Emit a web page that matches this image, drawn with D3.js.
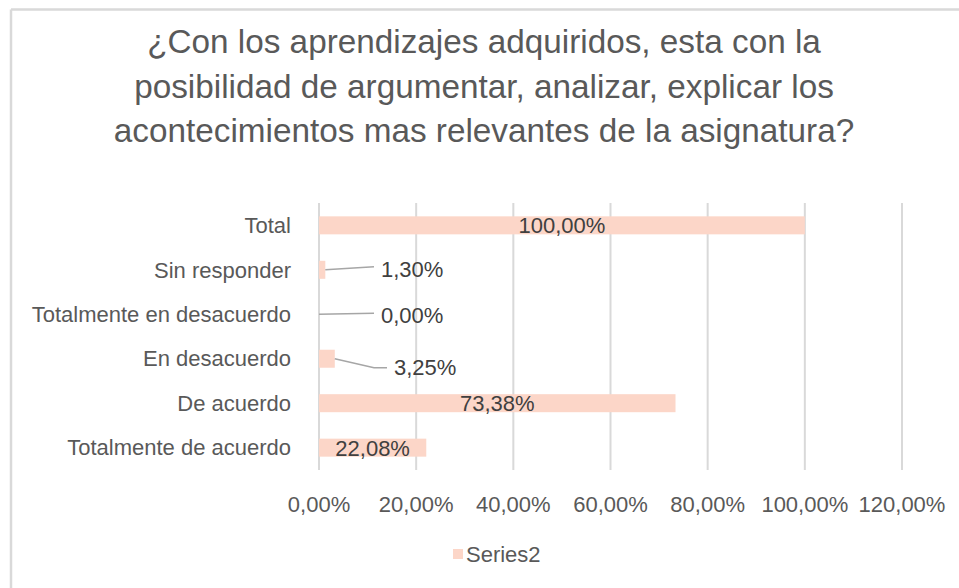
<!DOCTYPE html>
<html lang="es">
<head>
    <meta charset="UTF-8">
    <title>¿Con los aprendizajes adquiridos...?</title>
    <script src="https://d3js.org/d3.v7.min.js"></script>
    <style>
        body { margin: 0; background: #fff; }
        svg { display: block; font-family: "Liberation Sans", Arial, sans-serif; }
        .grid line { stroke: #d9d9d9; stroke-width: 2; }
        .cat, .tick-lbl, .legend-lbl { fill: #595959; font-size: 22px; }
        .val { fill: #404040; font-size: 22px; }
        .title { fill: #595959; font-size: 33.3px; }
    </style>
</head>
<body>
<svg id="chart" width="959" height="588"></svg>
<script>
    // chart data
    const titleLines = [
        "¿Con los aprendizajes adquiridos, esta con la",
        "posibilidad de argumentar, analizar, explicar los",
        "acontecimientos mas relevantes de la asignatura?"
    ];
    const categories = ["Total", "Sin responder", "Totalmente en desacuerdo",
                        "En desacuerdo", "De acuerdo", "Totalmente de acuerdo"];
    const values = [100, 1.30, 0, 3.25, 73.38, 22.08];
    const tickValues = [0, 20, 40, 60, 80, 100, 120];
    const seriesName = "Series2";

    const barColor = "#fcd6c8";
    const leaderColor = "#a6a6a6";

    const svg = d3.select("#chart");
    const margin = { left: 319, right: 57, top: 203, bottom: 118 };
    const width = 959 - margin.left - margin.right;
    const height = 588 - margin.top - margin.bottom;

    // frame (only top and left edge are visible in the crop)
    svg.append("line").attr("x1", 11).attr("x2", 959).attr("y1", 9.5).attr("y2", 9.5)
        .attr("stroke", "#d9d9d9").attr("stroke-width", 2.5);
    svg.append("line").attr("x1", 11).attr("x2", 11).attr("y1", 9.5).attr("y2", 588)
        .attr("stroke", "#d9d9d9").attr("stroke-width", 2.5);

    // title
    svg.append("text").attr("class", "title")
        .attr("text-anchor", "middle")
        .selectAll("tspan").data(titleLines).join("tspan")
        .attr("x", 484)
        .attr("y", (d, i) => 53 + i * 44.5)
        .text(d => d);

    const esLocale = d3.formatLocale({ decimal: ",", thousands: ".", grouping: [3], currency: ["", "€"] });
    const fmt = v => esLocale.format(".2f")(v) + "%";

    const x = d3.scaleLinear().domain([0, 120]).range([0, width]);
    const y = d3.scaleBand().domain(categories).range([0, height])
        .paddingInner(0.595).paddingOuter(0.3);

    const g = svg.append("g").attr("transform", `translate(${margin.left},${margin.top})`);

    // gridlines
    g.append("g").attr("class", "grid")
        .selectAll("line").data(tickValues).join("line")
        .attr("x1", d => x(d)).attr("x2", d => x(d))
        .attr("y1", 0).attr("y2", height);

    // x tick labels
    g.append("g")
        .selectAll("text").data(tickValues).join("text")
        .attr("class", "tick-lbl")
        .attr("x", d => x(d))
        .attr("y", height + 42)
        .attr("text-anchor", "middle")
        .text(d => fmt(d));

    // category labels
    g.append("g")
        .selectAll("text").data(categories).join("text")
        .attr("class", "cat")
        .attr("x", -28)
        .attr("y", d => y(d) + y.bandwidth() / 2)
        .attr("dy", "0.35em")
        .attr("text-anchor", "end")
        .text(d => d);

    const rows = categories.map((c, i) => ({ cat: c, val: values[i] }));

    // bars
    g.append("g")
        .selectAll("rect").data(rows).join("rect")
        .attr("x", x(0))
        .attr("y", d => y(d.cat))
        .attr("width", d => x(d.val) - x(0))
        .attr("height", y.bandwidth())
        .attr("fill", barColor);

    // data labels: inside (centered) for large bars, with leader lines for small ones
    const smallLabel = {
        "Sin responder": { lx: 55, ly: -3, tx: 62, ty: 7 },
        "Totalmente en desacuerdo": { lx: 55, ly: -1, tx: 62, ty: 9 },
        "En desacuerdo": { lx: 55, ly: 9, tx: 75, ty: 16, elbow: 68 }
    };

    rows.forEach(d => {
        const cy = y(d.cat) + y.bandwidth() / 2;
        const o = smallLabel[d.cat];
        if (!o) {
            g.append("text").attr("class", "val")
                .attr("x", (x(0) + x(d.val)) / 2)
                .attr("y", cy).attr("dy", "0.36em")
                .attr("text-anchor", "middle")
                .text(fmt(d.val));
        } else {
            const x0 = x(d.val);
            const pts = [[x0, cy], [x(0) + o.lx, cy + o.ly]];
            if (o.elbow) pts.push([x(0) + o.elbow, cy + o.ly]);
            g.append("path")
                .attr("d", d3.line()(pts))
                .attr("fill", "none")
                .attr("stroke", leaderColor)
                .attr("stroke-width", 1.5);
            g.append("text").attr("class", "val")
                .attr("x", x(0) + o.tx)
                .attr("y", cy + o.ty)
                .text(fmt(d.val));
        }
    });

    // legend
    const leg = svg.append("g").attr("transform", "translate(453,549)");
    leg.append("rect").attr("width", 10).attr("height", 10).attr("fill", barColor);
    leg.append("text").attr("class", "legend-lbl").attr("x", 13).attr("y", 13).text(seriesName);
</script>
</body>
</html>
